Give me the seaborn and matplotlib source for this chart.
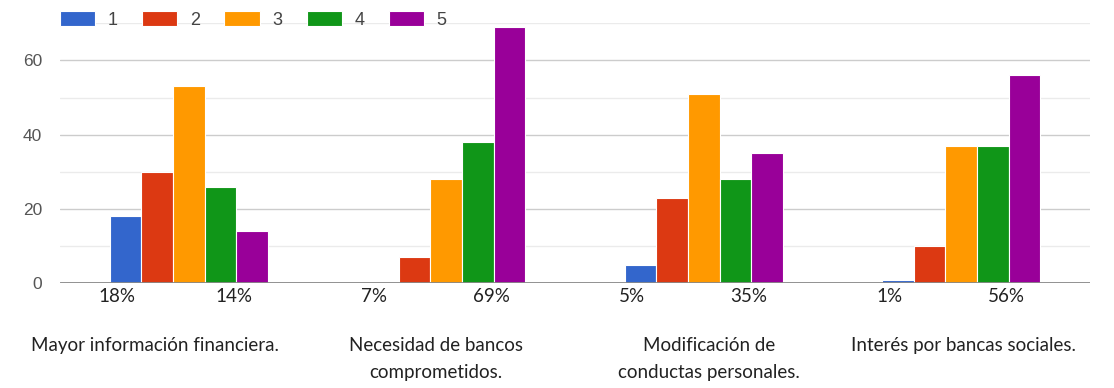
import matplotlib
matplotlib.use("Agg")
import matplotlib.pyplot as plt
import seaborn as sns
import pandas as pd

categories = ["Mayor información financiera.",
              "Necesidad de bancos\ncomprometidos.",
              "Modificación de\nconductas personales.",
              "Interés por bancas sociales."]
ratings = ["1", "2", "3", "4", "5"]
r1 = [18, 0, 5, 1]
r2 = [30, 7, 23, 10]
r3 = [53, 28, 51, 37]
r4 = [26, 38, 28, 37]
r5 = [14, 69, 35, 56]
pct_low = ["18%", "7%", "5%", "1%"]
pct_high = ["14%", "69%", "35%", "56%"]
yticks = [0, 20, 40, 60]

colors = ["#3366cc", "#dc3912", "#ff9900", "#109618", "#990099"]

rows = []
for r, vals in zip(ratings, [r1, r2, r3, r4, r5]):
    for c, v in zip(categories, vals):
        rows.append({"cat": c, "rating": r, "count": v})
df = pd.DataFrame(rows)

sns.set_theme(style="white")
plt.rcParams["font.family"] = ["Liberation Sans", "DejaVu Sans"]

fig = plt.figure(figsize=(11.14, 3.88), dpi=100)
ax = fig.add_axes([60/1114, 104.7/388, 1030/1114, 260/388])

sns.barplot(data=df, x="cat", y="count", hue="rating", order=categories,
            hue_order=ratings, palette=colors, saturation=1, width=0.614, gap=0,
            edgecolor="white", linewidth=0.8, ax=ax, legend=True)

ax.set_ylim(0, 70)
ax.set_xlim(-0.5, 3.5)
for y in [10, 30, 50, 70]:
    ax.axhline(y, color="#ebebeb", lw=1, zorder=0)
for y in [20, 40, 60]:
    ax.axhline(y, color="#cccccc", lw=1, zorder=0)
ax.axhline(0, color="#888888", lw=2, zorder=3)
for s in ax.spines.values():
    s.set_visible(False)
ax.set_yticks(yticks)
ax.set_yticklabels([str(t) for t in yticks], color="#555555", fontsize=12.5)
ax.tick_params(axis="y", length=0, pad=13)
ax.set_xticks([])
ax.set_xlabel("")
ax.set_ylabel("")

handles, labels = ax.get_legend_handles_labels()
ax.legend(handles, labels, ncol=5, loc="upper left",
          bbox_to_anchor=(60/1114, 1 - 11/388), bbox_transform=fig.transFigure,
          frameon=False, fontsize=13, handlelength=1.95, handleheight=0.9,
          handletextpad=0.7, columnspacing=1.35, labelcolor="#444444",
          borderaxespad=0, borderpad=0)

txt_font = ["Lato", "DejaVu Sans"]
trans = ax.get_xaxis_transform()
label_dx = [-0.13, -0.04, 0.02, 0.01]
for i in range(len(categories)):
    ax.text(i - 0.28, -0.05, pct_low[i], transform=trans, ha="center", va="center",
            fontsize=13.5, family=txt_font, color="#222222")
    ax.text(i + 0.175, -0.05, pct_high[i], transform=trans, ha="center", va="center",
            fontsize=13.5, family=txt_font, color="#222222")
    ax.text(i + label_dx[i], -0.205, categories[i], transform=trans, ha="center",
            va="top", fontsize=13.5, family=txt_font, color="#222222", linespacing=1.75)

fig.savefig("out.png", dpi=100)
